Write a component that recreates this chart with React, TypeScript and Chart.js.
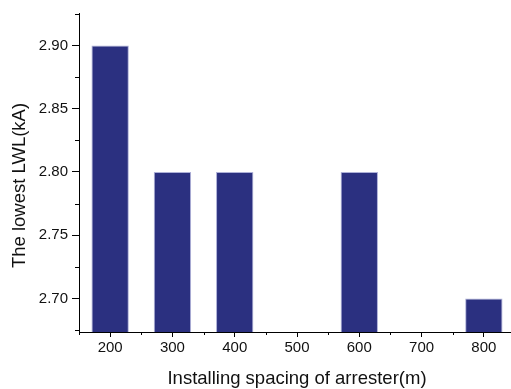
import React, { useEffect, useRef } from "react";
import { Chart, registerables } from "chart.js";

Chart.register(...registerables);

// Arrester spacing (m) and the lowest LWL (kA) measured at each spacing
const spacings = ["200", "300", "400", "500", "600", "700", "800"];
const lowestLwl: (number | null)[] = [2.9, 2.8, 2.8, null, 2.8, null, 2.7];

const yTitle = "The lowest LWL(kA)";
const xTitle = "Installing spacing of arrester(m)";

const FONT = "'Liberation Sans', Arial, sans-serif";
const TEXT = "#111";
const BAR_FILL = "#2B3080";
const BAR_EDGE = "#AEB1D8";

// Short minor tick marks between the major ticks, plus both axis titles
const axisExtras = {
  id: "axisExtras",
  afterDraw(chart: any) {
    const { ctx, chartArea } = chart;
    const ys = chart.scales.y;
    const xs = chart.scales.x;
    ctx.save();
    ctx.strokeStyle = "#000";
    ctx.lineWidth = 1;
    ctx.beginPath();
    const step = 0.025;
    for (let k = Math.ceil(ys.min / step - 1e-6); k * step <= ys.max + 1e-6; k++) {
      if (k % 2 === 0) continue;
      const py = Math.round(ys.getPixelForValue(k * step)) + 0.5;
      ctx.moveTo(chartArea.left - 4, py);
      ctx.lineTo(chartArea.left, py);
    }
    const p0 = xs.getPixelForValue(0);
    const cat = xs.getPixelForValue(1) - p0;
    for (let i = 0; i <= spacings.length; i++) {
      const px = Math.round(p0 + (i - 0.5) * cat) + 0.5;
      ctx.moveTo(px, chartArea.bottom);
      ctx.lineTo(px, chartArea.bottom + 3);
    }
    ctx.stroke();

    ctx.fillStyle = TEXT;
    ctx.font = `18.5px ${FONT}`;
    ctx.textAlign = "center";
    ctx.textBaseline = "middle";
    ctx.fillText(xTitle, (chartArea.left + chartArea.right) / 2, 379);
    ctx.translate(19.5, (chartArea.top + chartArea.bottom) / 2 + 13);
    ctx.rotate(-Math.PI / 2);
    ctx.fillText(yTitle, 0, 0);
    ctx.restore();
  },
};

export default function App() {
  const ref = useRef<HTMLCanvasElement | null>(null);

  useEffect(() => {
    if (!ref.current) return;
    const chart = new Chart(ref.current, {
      type: "bar",
      data: {
        labels: spacings,
        datasets: [
          {
            data: lowestLwl,
            backgroundColor: BAR_FILL,
            borderColor: BAR_EDGE,
            borderWidth: 1,
            barPercentage: 0.6,
            categoryPercentage: 1.0,
          },
        ],
      },
      options: {
        responsive: false,
        animation: false,
        devicePixelRatio: 1,
        layout: { padding: { top: 9, left: 0, right: 0, bottom: 0 } },
        plugins: {
          legend: { display: false },
          tooltip: { enabled: false },
        },
        scales: {
          x: {
            type: "category",
            offset: true,
            grid: {
              drawOnChartArea: false,
              drawTicks: true,
              tickLength: 5,
              tickColor: "#000",
              offset: false,
            },
            border: { display: true, color: "#000", width: 1 },
            ticks: {
              color: TEXT,
              font: { family: FONT, size: 15 },
              padding: 2,
              maxRotation: 0,
              autoSkip: false,
            },
            afterFit: (s: any) => {
              s.height = 57;
            },
          },
          y: {
            type: "linear",
            min: 2.6734,
            max: 2.9258,
            grid: {
              drawOnChartArea: false,
              drawTicks: true,
              tickLength: 7,
              tickColor: "#000",
            },
            border: { display: true, color: "#000", width: 1 },
            ticks: {
              stepSize: 0.05,
              includeBounds: false,
              color: TEXT,
              font: { family: FONT, size: 15 },
              padding: 4,
              callback: (v: any) => Number(v).toFixed(2),
            },
            afterFit: (s: any) => {
              s.width = 79;
            },
          },
        },
      },
      plugins: [axisExtras],
    });
    return () => chart.destroy();
  }, []);

  return (
    <div
      style={{
        position: "fixed",
        left: 0,
        top: 0,
        width: 511,
        height: 389,
        overflow: "hidden",
        background: "#fff",
      }}
    >
      <canvas ref={ref} width={515} height={389} style={{ display: "block" }} />
    </div>
  );
}
